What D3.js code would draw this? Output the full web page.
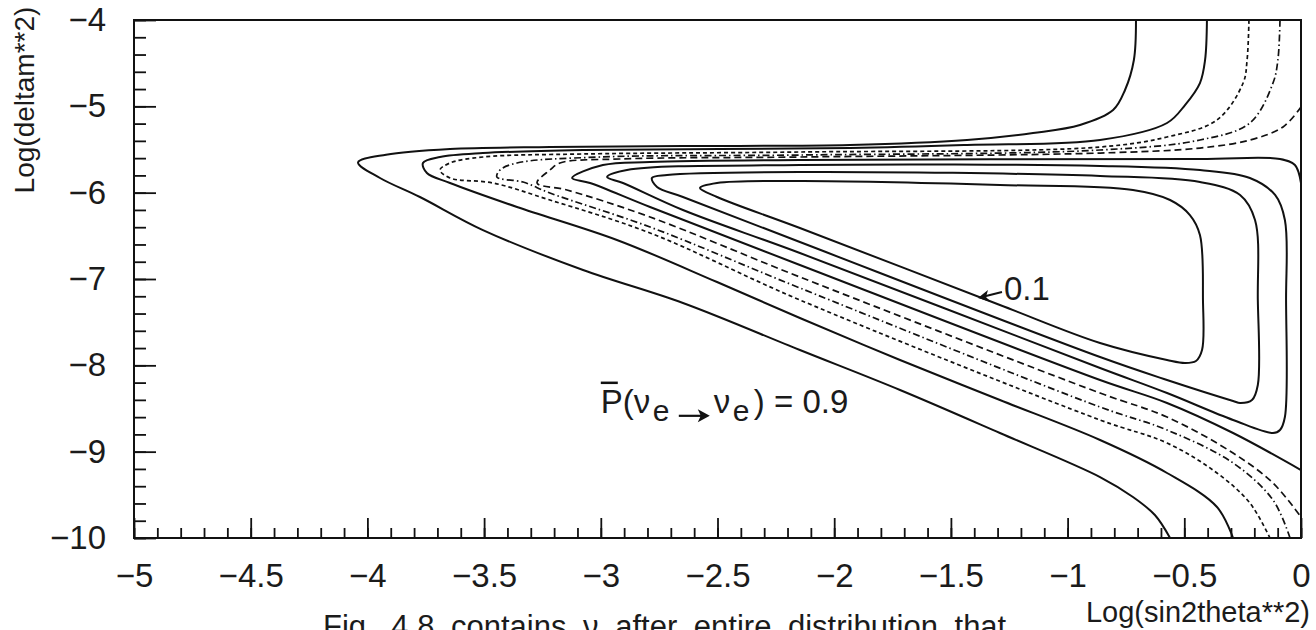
<!DOCTYPE html>
<html>
<head>
<meta charset="utf-8">
<script src="https://cdn.jsdelivr.net/npm/d3@7"></script>
<style>
  body { margin: 0; background: #fff; }
  svg text { font-family: "Liberation Sans", Arial, sans-serif; fill: #1b1b1b; }
</style>
</head>
<body>
<svg id="chart" width="1316" height="630"></svg>
<script>
// tick labels
const xTickValues = [-5, -4.5, -4, -3.5, -3, -2.5, -2, -1.5, -1, -0.5, 0]
const yTickValues = [-10, -9, -8, -7, -6, -5, -4]

// contour lines of P(nu_e -> nu_e), points are [log sin2theta**2, log deltam**2]
const levels = [0.9, 0.8, 0.7, 0.6, 0.5, 0.4, 0.3, 0.2, 0.1]

const c09 = [[-0.707,-4.0],[-0.716,-4.463],[-0.754,-4.811],[-0.805,-5.043],[-0.947,-5.216],[-1.148,-5.309],
  [-1.431,-5.390],[-1.932,-5.448],[-2.648,-5.460],[-3.218,-5.471],[-3.646,-5.494],[-3.920,-5.560],[-4.040,-5.650],
  [-3.946,-5.830],[-3.775,-6.050],[-3.505,-6.433],[-3.076,-6.896],[-2.648,-7.278],[-2.147,-7.823],[-1.718,-8.286],
  [-1.290,-8.784],[-0.861,-9.294],[-0.720,-9.525],[-0.626,-9.734],[-0.561,-10.0]]

const c08 = [[-0.403,-4.0],[-0.411,-4.463],[-0.433,-4.730],[-0.497,-4.985],[-0.574,-5.193],[-0.861,-5.390],
  [-1.431,-5.448],[-1.932,-5.483],[-3.076,-5.506],[-3.505,-5.541],[-3.689,-5.587],[-3.762,-5.656],[-3.745,-5.772],
  [-3.646,-5.888],[-3.359,-6.166],[-2.931,-6.548],[-2.502,-7.035],[-2.147,-7.452],[-1.718,-7.938],[-1.290,-8.402],
  [-0.861,-8.865],[-0.574,-9.247],[-0.360,-9.641],[-0.291,-10.0]]

const c07 = [[-0.223,-4.0],[-0.231,-4.463],[-0.248,-4.730],[-0.360,-5.158],[-0.574,-5.355],[-0.861,-5.471],
  [-2.147,-5.529],[-3.076,-5.552],[-3.505,-5.587],[-3.646,-5.656],[-3.689,-5.738],[-3.646,-5.830],[-3.462,-5.888],
  [-3.218,-6.085],[-2.789,-6.467],[-2.147,-7.243],[-0.861,-8.633],[-0.574,-8.900],[-0.360,-9.247],[-0.219,-9.595],
  [-0.133,-10.0]]

const c06 = [[-0.090,-4.0],[-0.099,-4.463],[-0.120,-4.730],[-0.219,-5.193],[-0.433,-5.390],[-0.861,-5.506],
  [-2.147,-5.564],[-3.003,-5.587],[-3.359,-5.656],[-3.432,-5.738],[-3.445,-5.819],[-3.333,-5.877],[-3.218,-6.004],
  [-2.789,-6.398],[-2.147,-7.104],[-0.861,-8.483],[-0.574,-8.749],[-0.291,-9.131],[-0.120,-9.560],[-0.047,-10.0]]

const c05 = [[0,-5.008],[-0.077,-5.239],[-0.219,-5.390],[-0.433,-5.483],[-0.861,-5.541],[-2.147,-5.587],
  [-2.918,-5.610],[-3.175,-5.656],[-3.218,-5.738],[-3.273,-5.888],[-3.145,-5.969],[-2.789,-6.282],[-2.147,-6.977],
  [-0.861,-8.321],[-0.574,-8.599],[-0.291,-9.016],[-0.120,-9.363],[0,-9.757]]

const c04 = [[0,-5.888],[-0.026,-5.680],[-0.090,-5.610],[-0.433,-5.610],[-2.147,-5.622],[-2.789,-5.645],
  [-2.991,-5.680],[-3.123,-5.830],[-3.046,-5.888],[-2.789,-6.166],[-2.147,-6.838],[-0.861,-8.170],[-0.574,-8.436],
  [-0.291,-8.784],[0,-9.213]]

// closed loops
const c03 = [[-2.973,-5.819],[-2.888,-5.738],[-2.147,-5.680],[-0.861,-5.691],[-0.433,-5.738],[-0.219,-5.830],
  [-0.111,-6.027],[-0.069,-6.317],[-0.064,-7.243],[-0.069,-8.599],[-0.090,-8.749],[-0.120,-8.784],[-0.291,-8.633],
  [-0.574,-8.321],[-0.861,-8.031],[-2.147,-6.699],[-2.648,-6.201],[-2.905,-5.888]]

const c02 = [[-2.781,-5.830],[-2.716,-5.795],[-2.147,-5.761],[-0.861,-5.807],[-0.433,-5.877],[-0.261,-6.027],
  [-0.197,-6.317],[-0.185,-7.243],[-0.185,-8.228],[-0.210,-8.402],[-0.261,-8.436],[-0.291,-8.413],[-0.574,-8.170],
  [-0.861,-7.904],[-2.147,-6.572],[-2.648,-6.050],[-2.759,-5.934]]

const c01 = [[-2.575,-5.946],[-2.502,-5.888],[-2.147,-5.865],[-1.290,-5.911],[-0.720,-5.969],[-0.561,-6.085],
  [-0.476,-6.259],[-0.433,-6.490],[-0.420,-7.243],[-0.424,-7.823],[-0.450,-7.950],[-0.497,-7.973],[-0.574,-7.938],
  [-0.861,-7.741],[-1.290,-7.301],[-2.147,-6.409],[-2.502,-6.050]]

const contours = [c09, c08, c07, c06, c05, c04, c03, c02, c01]
const closed = [false, false, false, false, false, false, true, true, true]
const dashes = [null, null, '4,3', '7,3,1.5,3', '7,4', null, null, null, null]

const width = 1316, height = 630
const margin = { top: 20, right: 15, bottom: 92, left: 134 }

const svg = d3.select('#chart')

const x = d3.scaleLinear().domain([-5, 0]).range([margin.left, width - margin.right])
const y = d3.scaleLinear().domain([-10, -4]).range([height - margin.bottom, margin.top])

svg.append('defs').append('clipPath').attr('id', 'plotclip')
  .append('rect')
  .attr('x', x(-5)).attr('y', y(-4))
  .attr('width', x(0) - x(-5)).attr('height', y(-10) - y(-4))

// contours
const lineOpen = d3.line().x(d => x(d[0])).y(d => y(d[1])).curve(d3.curveCatmullRom.alpha(0.5))
const lineClosed = d3.line().x(d => x(d[0])).y(d => y(d[1])).curve(d3.curveCatmullRomClosed.alpha(0.5))

svg.append('g').attr('clip-path', 'url(#plotclip)')
  .selectAll('path')
  .data(contours)
  .join('path')
  .attr('d', (d, i) => closed[i] ? lineClosed(d) : lineOpen(d))
  .attr('fill', 'none')
  .attr('stroke', '#111')
  .attr('stroke-width', (d, i) => dashes[i] ? 1.7 : 2)
  .attr('stroke-dasharray', (d, i) => dashes[i])

// axes, ticks point inwards
const fmt = d => d3.format('')(d)
const xMinor = d3.range(-50, 1).map(i => i / 10)
const yMinor = d3.range(-50, -19).map(i => i / 5)

svg.append('g')
  .attr('transform', `translate(0,${y(-10)})`)
  .call(d3.axisBottom(x).tickValues(xMinor).tickSize(-10).tickFormat(''))
  .call(g => g.select('.domain').remove())
  .call(g => g.selectAll('line').attr('stroke', '#111').attr('stroke-width', 1.8))

svg.append('g')
  .attr('transform', `translate(0,${y(-10)})`)
  .call(d3.axisBottom(x).tickValues(xTickValues).tickSize(-20).tickPadding(26).tickFormat(fmt))
  .call(g => g.select('.domain').remove())
  .call(g => g.selectAll('line').attr('stroke', '#111').attr('stroke-width', 1.8))
  .call(g => g.selectAll('text').attr('font-size', 33).attr('fill', '#1b1b1b'))

svg.append('g')
  .attr('transform', `translate(${x(-5)},0)`)
  .call(d3.axisLeft(y).tickValues(yMinor).tickSize(-12).tickFormat(''))
  .call(g => g.select('.domain').remove())
  .call(g => g.selectAll('line').attr('stroke', '#111').attr('stroke-width', 1.8))

svg.append('g')
  .attr('transform', `translate(${x(-5)},0)`)
  .call(d3.axisLeft(y).tickValues(yTickValues).tickSize(-22).tickPadding(28).tickFormat(fmt))
  .call(g => g.select('.domain').remove())
  .call(g => g.selectAll('line').attr('stroke', '#111').attr('stroke-width', 1.8))
  .call(g => g.selectAll('text').attr('font-size', 33).attr('fill', '#1b1b1b'))

// frame
svg.append('rect')
  .attr('x', x(-5)).attr('y', y(-4))
  .attr('width', x(0) - x(-5)).attr('height', y(-10) - y(-4))
  .attr('fill', 'none').attr('stroke', '#111').attr('stroke-width', 2)

// axis titles
svg.append('text')
  .attr('transform', `translate(34,100) rotate(-90)`)
  .attr('text-anchor', 'middle')
  .attr('font-size', 28)
  .attr('fill', '#444')
  .text('Log(deltam**2)')

svg.append('text')
  .attr('x', 1310).attr('y', 622)
  .attr('text-anchor', 'end')
  .attr('font-size', 29)
  .text('Log(sin2theta**2)')

// caption under the figure, cut by the page edge as in the scan
svg.append('text')
  .attr('x', 323).attr('y', 637)
  .attr('font-size', 31)
  .attr('word-spacing', 8)
  .text('Fig. 4.8 contains ν after entire distribution that')

// label 0.9
const px = x(-3.0), py = y(-8.55)
const lab = svg.append('g').attr('transform', `translate(${px},${py})`)
lab.append('text').attr('font-size', 33).text('P(ν')
lab.append('text').attr('x', 52).attr('y', 8).attr('font-size', 30).text('e')
lab.append('text').attr('x', 113).attr('font-size', 33).text('ν')
lab.append('text').attr('x', 132).attr('y', 8).attr('font-size', 30).text('e')
lab.append('text').attr('x', 153).attr('font-size', 33).text(')  =  0.9')
lab.append('line').attr('x1', 0).attr('x2', 17).attr('y1', -30).attr('y2', -30)
  .attr('stroke', '#111').attr('stroke-width', 2.5)
lab.append('line').attr('x1', 78).attr('x2', 104).attr('y1', 3).attr('y2', 3)
  .attr('stroke', '#111').attr('stroke-width', 2.2)
lab.append('path').attr('d', 'M109,3 L97,-3.5 L100,3 L97,9.5 Z').attr('fill', '#111')

// label 0.1 with arrow to its line
const ax = x(-1.384), ay = y(-7.22)
const lab2 = svg.append('g').attr('transform', `translate(${ax},${ay})`)
lab2.append('text').attr('x', 26).attr('y', 2).attr('font-size', 33).text('0.1')
lab2.append('line').attr('x1', 24).attr('y1', -6).attr('x2', 6).attr('y2', -1.5)
  .attr('stroke', '#111').attr('stroke-width', 2)
lab2.append('path').attr('d', 'M0,0 L10,-8 L8,-1 L13,4 Z').attr('fill', '#111')
</script>
</body>
</html>
